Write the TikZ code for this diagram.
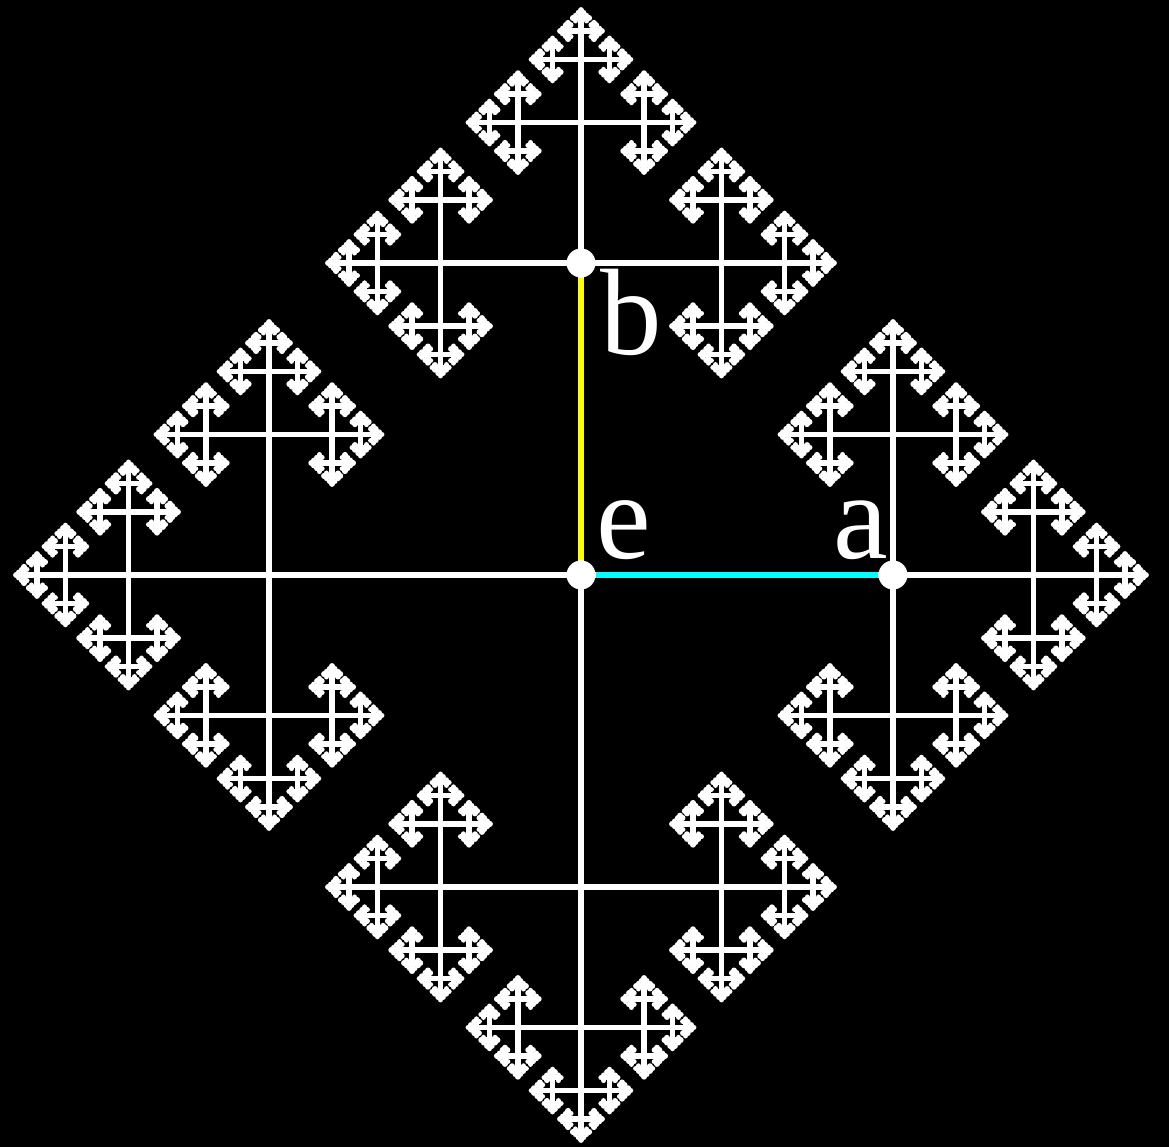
\documentclass[tikz,border=0pt]{standalone}
\usepackage{fontspec}
\setmainfont{Liberation Serif}
\usetikzlibrary{
    positioning
}
\definecolor{gencyan}{RGB}{0,255,255}
\definecolor{genyellow}{RGB}{255,255,0}
\tikzset{
    edge/.style={
        white,
        line width=1.55pt,
        line cap=round
    },
    gen a/.style={
        gencyan,
        line width=1.85pt
    },
    gen b/.style={
        genyellow,
        line width=1.85pt
    },
    vertex/.style={
        circle,
        fill=white,
        minimum size=0.29cm,
        inner sep=0pt
    },
    glabel/.style={
        white,
        inner sep=0pt,
        font=\fontsize{35}{40}\selectfont
    }
}

% shrink factor per generation
\newcommand\cgratio{0.45}
% one branch: x, y, heading, length, depth
\newcommand\cgbranch[5]{%
    \ifnum#5>0
        \foreach \turn in {-90,0,90}{%
            \pgfmathsetmacro\hd{#3+\turn}%
            \pgfmathsetmacro\nx{#1+#4*cos(\hd)}%
            \pgfmathsetmacro\ny{#2+#4*sin(\hd)}%
            \pgfmathsetmacro\nl{#4*\cgratio}%
            \pgfmathtruncatemacro\nd{#5-1}%
            \draw[edge] (#1,#2) -- (\nx,\ny);
            \edef\next{\noexpand\cgbranch{\nx}{\ny}{\hd}{\nl}{\nd}}%
            \next
        }%
    \fi}

\begin{document}
\begin{tikzpicture}

    % Fondo
    \fill[black] (-5.81,-5.72) rectangle (5.88,5.75);
    \useasboundingbox (-5.81,-5.72) rectangle (5.88,5.75);

    % Arbol de Cayley
    \cgbranch{0}{0}{0}{3.12}{7}
    \draw[edge] (0,0) -- (-3.12,0);
    \cgbranch{-3.12}{0}{180}{1.404}{6}

    % Vertices
    \node[vertex] (e) at (0,0)    {};
    \node[vertex] (a) at (3.12,0) {};
    \node[vertex] (b) at (0,3.12) {};

    % Generadores
    \draw[gen a] (e) -- (a);
    \draw[gen b] (e) -- (b);

    % Etiquetas
    \node[glabel, above right=0.15cm and 0.15cm of e.center] (le) {e};
    \node[glabel, above left=0.15cm and 0.04cm of a.center]  (la) {a};
    \node[glabel, below right=0.05cm and 0.19cm of b.center] (lb) {b};

\end{tikzpicture}
\end{document}
